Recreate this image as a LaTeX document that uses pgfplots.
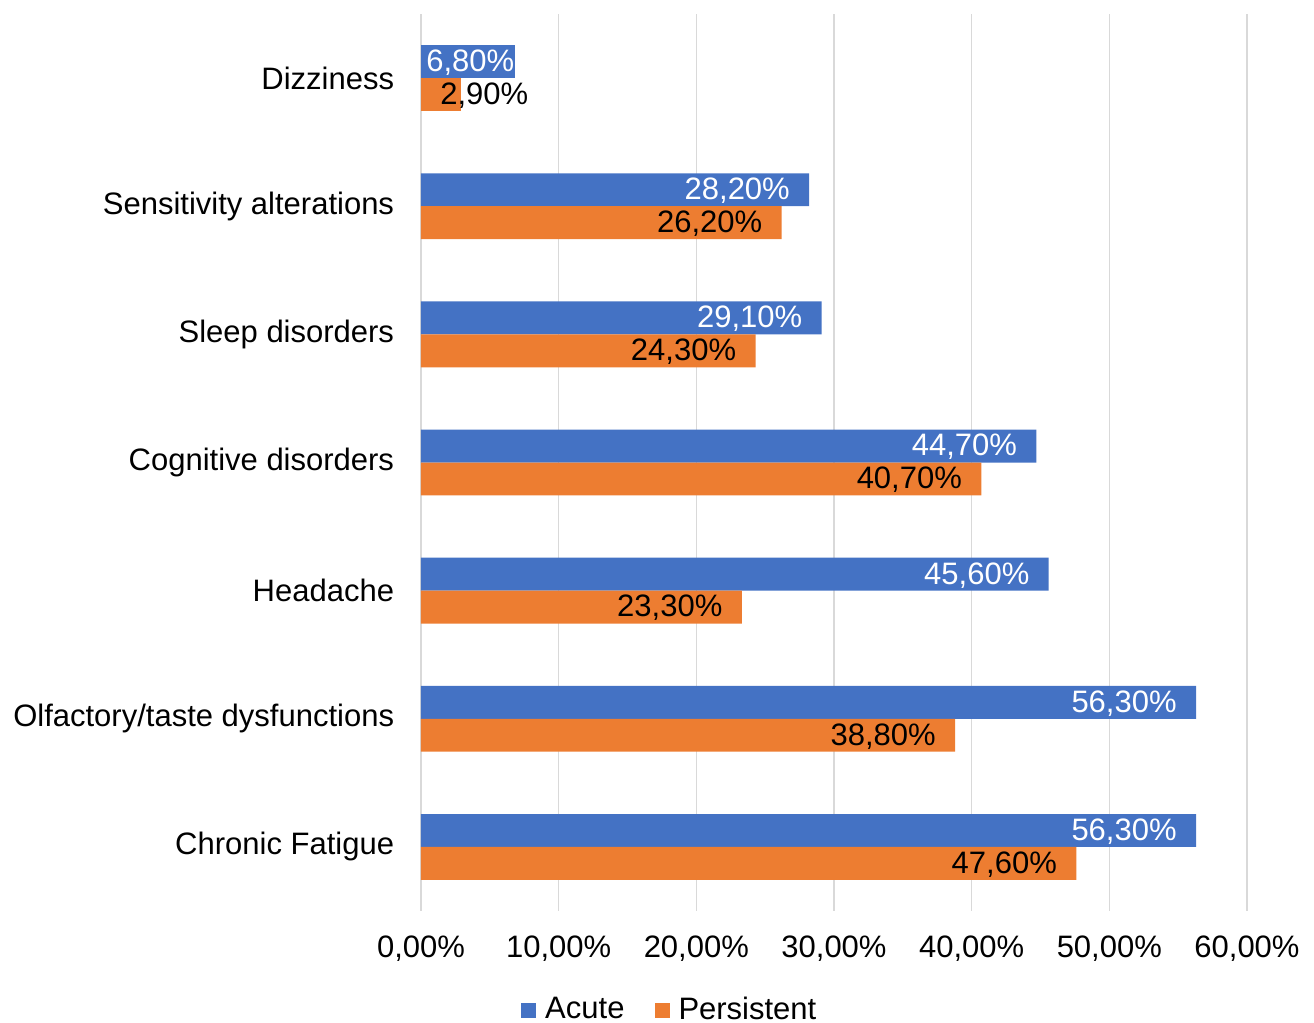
\documentclass[border=0pt]{standalone}
\usepackage{fontspec}
\setmainfont{Liberation Sans}
\usepackage{pgfplots}
\pgfplotsset{compat=1.18}

\definecolor{acute}{HTML}{4472C4}
\definecolor{persist}{HTML}{ED7D31}
\definecolor{gridgray}{HTML}{D9D9D9}

\begin{document}
\fontsize{15.5}{18.6}\selectfont
\begin{tikzpicture}
\useasboundingbox (-210.5pt,-56pt) rectangle (446.5pt,455.5pt);
\begin{axis}[
    at={(0,0)}, anchor=south west,
    scale only axis,
    width=413pt, height=448.5pt,
    xbar, bar width=0.257,
    xmin=0, xmax=60,
    ymin=-0.5, ymax=6.5,
    y dir=reverse,
    xtick={0,10,...,60},
    ytick={0,...,6},
    yticklabels={Dizziness, Sensitivity alterations, Sleep disorders,
        Cognitive disorders, Headache, Olfactory/taste dysfunctions,
        Chronic Fatigue},
    /pgf/number format/assume math mode=true,
    /pgf/number format/.cd, fixed, fixed zerofill, precision=2, use comma,
    /pgfplots/.cd,
    xticklabel={\pgfmathprintnumber{\tick}\%},
    xticklabel style={anchor=center, inner sep=0pt, yshift=-19pt},
    yticklabel style={anchor=east, inner sep=0pt, xshift=-9pt},
    axis line style={draw=none},
    tick style={draw=none},
    xmajorgrids,
    grid style={gridgray, line width=0.8pt},
    clip=false,
    point meta=x,
    nodes near coords={\pgfmathprintnumber{\pgfplotspointmeta}\%},
    every node near coord/.append style={anchor=east, inner sep=0pt, xshift=-9.5pt, yshift=-0.5pt},
    legend style={at={(0.3,-0.111)}, anchor=center, draw=none,
        legend columns=-1, inner sep=0pt,
        /tikz/every even column/.append style={column sep=15pt},
        nodes={inner sep=0pt, xshift=0pt}},
    legend cell align=left,
    legend image code/.code={\draw[#1,draw=none] (0pt,-3.75pt) rectangle (7.5pt,3.75pt);\path (12pt,0pt);},
]
% Acute
\addplot[fill=acute, draw=none, bar shift=-0.1285,
    every node near coord/.append style={white}]
    coordinates {(28.2,1) (29.1,2) (44.7,3) (45.6,4) (56.3,5) (56.3,6)};
\addlegendentry{Acute}
\addplot[fill=acute, draw=none, bar shift=-0.1285, forget plot,
    every node near coord/.append style={white, xshift=9.5pt}]
    coordinates {(6.8,0)};
% Persistent
\addplot[fill=persist, draw=none, bar shift=0.1285,
    every node near coord/.append style={black}]
    coordinates {(26.2,1) (24.3,2) (40.7,3) (23.3,4) (38.8,5) (47.6,6)};
\addlegendentry{Persistent}
\addplot[fill=persist, draw=none, bar shift=0.1285, forget plot,
    every node near coord/.append style={black, anchor=west, xshift=-1pt}]
    coordinates {(2.9,0)};
\end{axis}
\end{tikzpicture}
\end{document}
